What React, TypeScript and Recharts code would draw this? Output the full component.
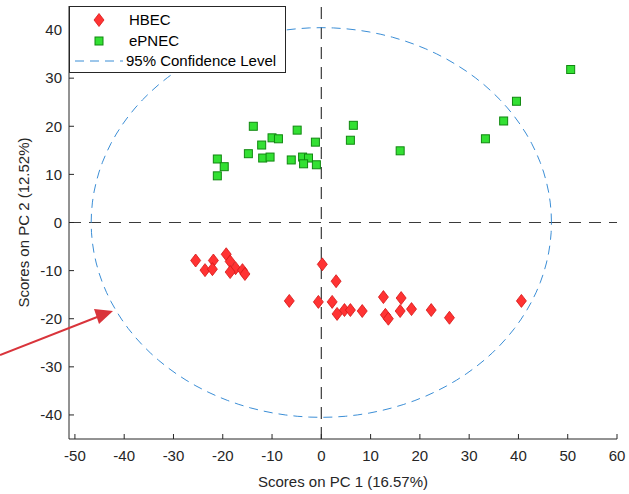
import React from 'react';
import { ScatterChart, Scatter, XAxis, YAxis, ReferenceLine } from 'recharts';

// HBEC scores (PC1, PC2)
const hbecPC1 = [-25.5, -23.6, -21.9, -22.1, -19.3, -18.5, -17.4, -18.5, -16.0, -15.5, 0.2, 3.0, -6.5, -0.6, 2.2, 3.2, 4.7, 5.9, 8.3, 12.6, 16.2, 13.0, 13.6, 16.0, 18.3, 22.3, 26.0, 40.6];
const hbecPC2 = [-7.9, -9.9, -7.9, -9.7, -6.6, -8.1, -9.5, -10.3, -9.9, -10.7, -8.7, -12.2, -16.3, -16.5, -16.5, -19.0, -18.2, -18.2, -18.4, -15.5, -15.7, -19.2, -20.0, -18.4, -18.0, -18.2, -19.8, -16.3];

// ePNEC scores (PC1, PC2)
const epnecPC1 = [-21.1, -19.7, -21.1, -13.8, -14.8, -12.1, -10.0, -8.7, -11.9, -10.4, -4.9, -6.1, -3.8, -2.6, -3.6, -1.2, -1.0, 6.5, 5.9, 16.0, 50.6, 39.6, 37.0, 33.3];
const epnecPC2 = [13.2, 11.6, 9.7, 20.0, 14.3, 16.1, 17.6, 17.4, 13.4, 13.6, 19.2, 13.0, 13.6, 13.4, 12.2, 16.7, 12.0, 20.2, 17.1, 14.9, 31.8, 25.2, 21.1, 17.4];

// 95% confidence ellipse semi-axes
const ellipseRadiusPC1 = 46.7;
const ellipseRadiusPC2 = 40.5;
const ellipseSegments = 120;

const xTicks = [-50, -40, -30, -20, -10, 0, 10, 20, 30, 40, 50, 60];
const yTicks = [-40, -30, -20, -10, 0, 10, 20, 30, 40];
const xDomain: [number, number] = [-51.2, 60];
const yDomain: [number, number] = [-45, 45];

const seriesNames = ['HBEC', 'ePNEC', '95% Confidence Level'];
const xLabel = 'Scores on PC 1 (16.57%)';
const yLabel = 'Scores on PC 2 (12.52%)';

const hbecData = hbecPC1.map((x, i) => ({ x, y: hbecPC2[i] }));
const epnecData = epnecPC1.map((x, i) => ({ x, y: epnecPC2[i] }));
const ellipseData = Array.from({ length: ellipseSegments + 1 }, (_, i) => {
  const t = (2 * Math.PI * i) / ellipseSegments;
  return { x: ellipseRadiusPC1 * Math.cos(t), y: ellipseRadiusPC2 * Math.sin(t) };
});

const FONT = 'Arial, "Liberation Sans", Helvetica, sans-serif';
const AXIS_COLOR = '#262626';
const RED_FILL = '#ff3333';
const RED_EDGE = '#d41515';
const GREEN_FILL = '#33e033';
const GREEN_EDGE = '#118811';
const ELLIPSE_COLOR = '#3b8ed6';

const Diamond = (props: any) => {
  const { cx, cy } = props;
  if (cx == null || cy == null) return <g />;
  return (
    <polygon
      points={`${cx},${cy - 6.5} ${cx + 5},${cy} ${cx},${cy + 6.5} ${cx - 5},${cy}`}
      fill={RED_FILL}
      stroke={RED_EDGE}
      strokeWidth={0.8}
    />
  );
};

const Square = (props: any) => {
  const { cx, cy } = props;
  if (cx == null || cy == null) return <g />;
  return (
    <rect x={cx - 4} y={cy - 4} width={8} height={8} fill={GREEN_FILL} stroke={GREEN_EDGE} strokeWidth={1} />
  );
};

const NoShape = () => <g />;

const tickStyle = { fill: AXIS_COLOR, fontSize: 15, fontFamily: FONT };

export default function App() {
  return (
    <div style={{ position: 'absolute', left: 0, top: 0, width: 629, height: 494, background: '#fff' }}>
      <ScatterChart
        width={629}
        height={494}
        margin={{ top: 6, right: 12, bottom: 0, left: 0 }}
        style={{ fontFamily: FONT }}
      >
        <XAxis
          xAxisId="bottom"
          type="number"
          dataKey="x"
          domain={xDomain}
          ticks={xTicks}
          allowDataOverflow
          height={55}
          tickSize={-5}
          tickMargin={16}
          stroke={AXIS_COLOR}
          tick={tickStyle}
          label={{ value: xLabel, position: 'insideBottom', offset: 7, fill: AXIS_COLOR, fontSize: 15, fontFamily: FONT }}
        />
        <XAxis
          xAxisId="top"
          orientation="top"
          type="number"
          dataKey="x"
          domain={xDomain}
          ticks={xTicks}
          allowDataOverflow
          height={0}
          tickSize={-5}
          stroke={AXIS_COLOR}
          tick={false}
        />
        <YAxis
          yAxisId="left"
          type="number"
          dataKey="y"
          domain={yDomain}
          ticks={yTicks}
          allowDataOverflow
          width={69}
          tickSize={-5}
          tickMargin={12}
          stroke={AXIS_COLOR}
          tick={tickStyle}
          label={{ value: yLabel, angle: -90, position: 'insideLeft', offset: 24, fill: AXIS_COLOR, fontSize: 15, fontFamily: FONT, style: { textAnchor: 'middle' } }}
        />
        <YAxis
          yAxisId="right"
          orientation="right"
          type="number"
          dataKey="y"
          domain={yDomain}
          ticks={yTicks}
          allowDataOverflow
          width={0}
          tickSize={-5}
          stroke={AXIS_COLOR}
          tick={false}
        />
        <ReferenceLine xAxisId="bottom" yAxisId="left" x={0} stroke="#3a3a3a" strokeWidth={1.2} strokeDasharray="12 8" />
        <ReferenceLine xAxisId="bottom" yAxisId="left" y={0} stroke="#3a3a3a" strokeWidth={1.2} strokeDasharray="12 8" />
        <Scatter
          xAxisId="bottom"
          yAxisId="left"
          name={seriesNames[2]}
          data={ellipseData}
          line={{ stroke: ELLIPSE_COLOR, strokeWidth: 1, strokeDasharray: '9 6' }}
          lineJointType="linear"
          shape={NoShape}
          isAnimationActive={false}
        />
        <Scatter
          xAxisId="bottom"
          yAxisId="left"
          name={seriesNames[0]}
          data={hbecData}
          shape={Diamond}
          isAnimationActive={false}
        />
        <Scatter
          xAxisId="bottom"
          yAxisId="left"
          name={seriesNames[1]}
          data={epnecData}
          shape={Square}
          isAnimationActive={false}
        />
      </ScatterChart>
      <svg
        width={629}
        height={494}
        style={{ position: 'absolute', left: 0, top: 0, pointerEvents: 'none' }}
      >
        <line x1={0} y1={355} x2={110} y2={312} stroke="#d9343b" strokeWidth={2} />
        <polygon points="113,311 94,309 99,324" fill="#d9343b" />
        <g fontFamily={FONT} fontSize={15} fill="#000">
          <rect x={69.5} y={6.5} width={216} height={66} fill="#fff" stroke={AXIS_COLOR} strokeWidth={1} />
          <polygon points="99,13.5 104,20 99,26.5 94,20" fill={RED_FILL} stroke={RED_EDGE} strokeWidth={0.8} />
          <text x={129} y={25}>{seriesNames[0]}</text>
          <rect x={95} y={37} width={8} height={8} fill={GREEN_FILL} stroke={GREEN_EDGE} strokeWidth={1} />
          <text x={129} y={46}>{seriesNames[1]}</text>
          <line x1={75} y1={61} x2={123} y2={61} stroke={ELLIPSE_COLOR} strokeWidth={1} strokeDasharray="9 6" />
          <text x={126} y={66}>{seriesNames[2]}</text>
        </g>
      </svg>
    </div>
  );
}
